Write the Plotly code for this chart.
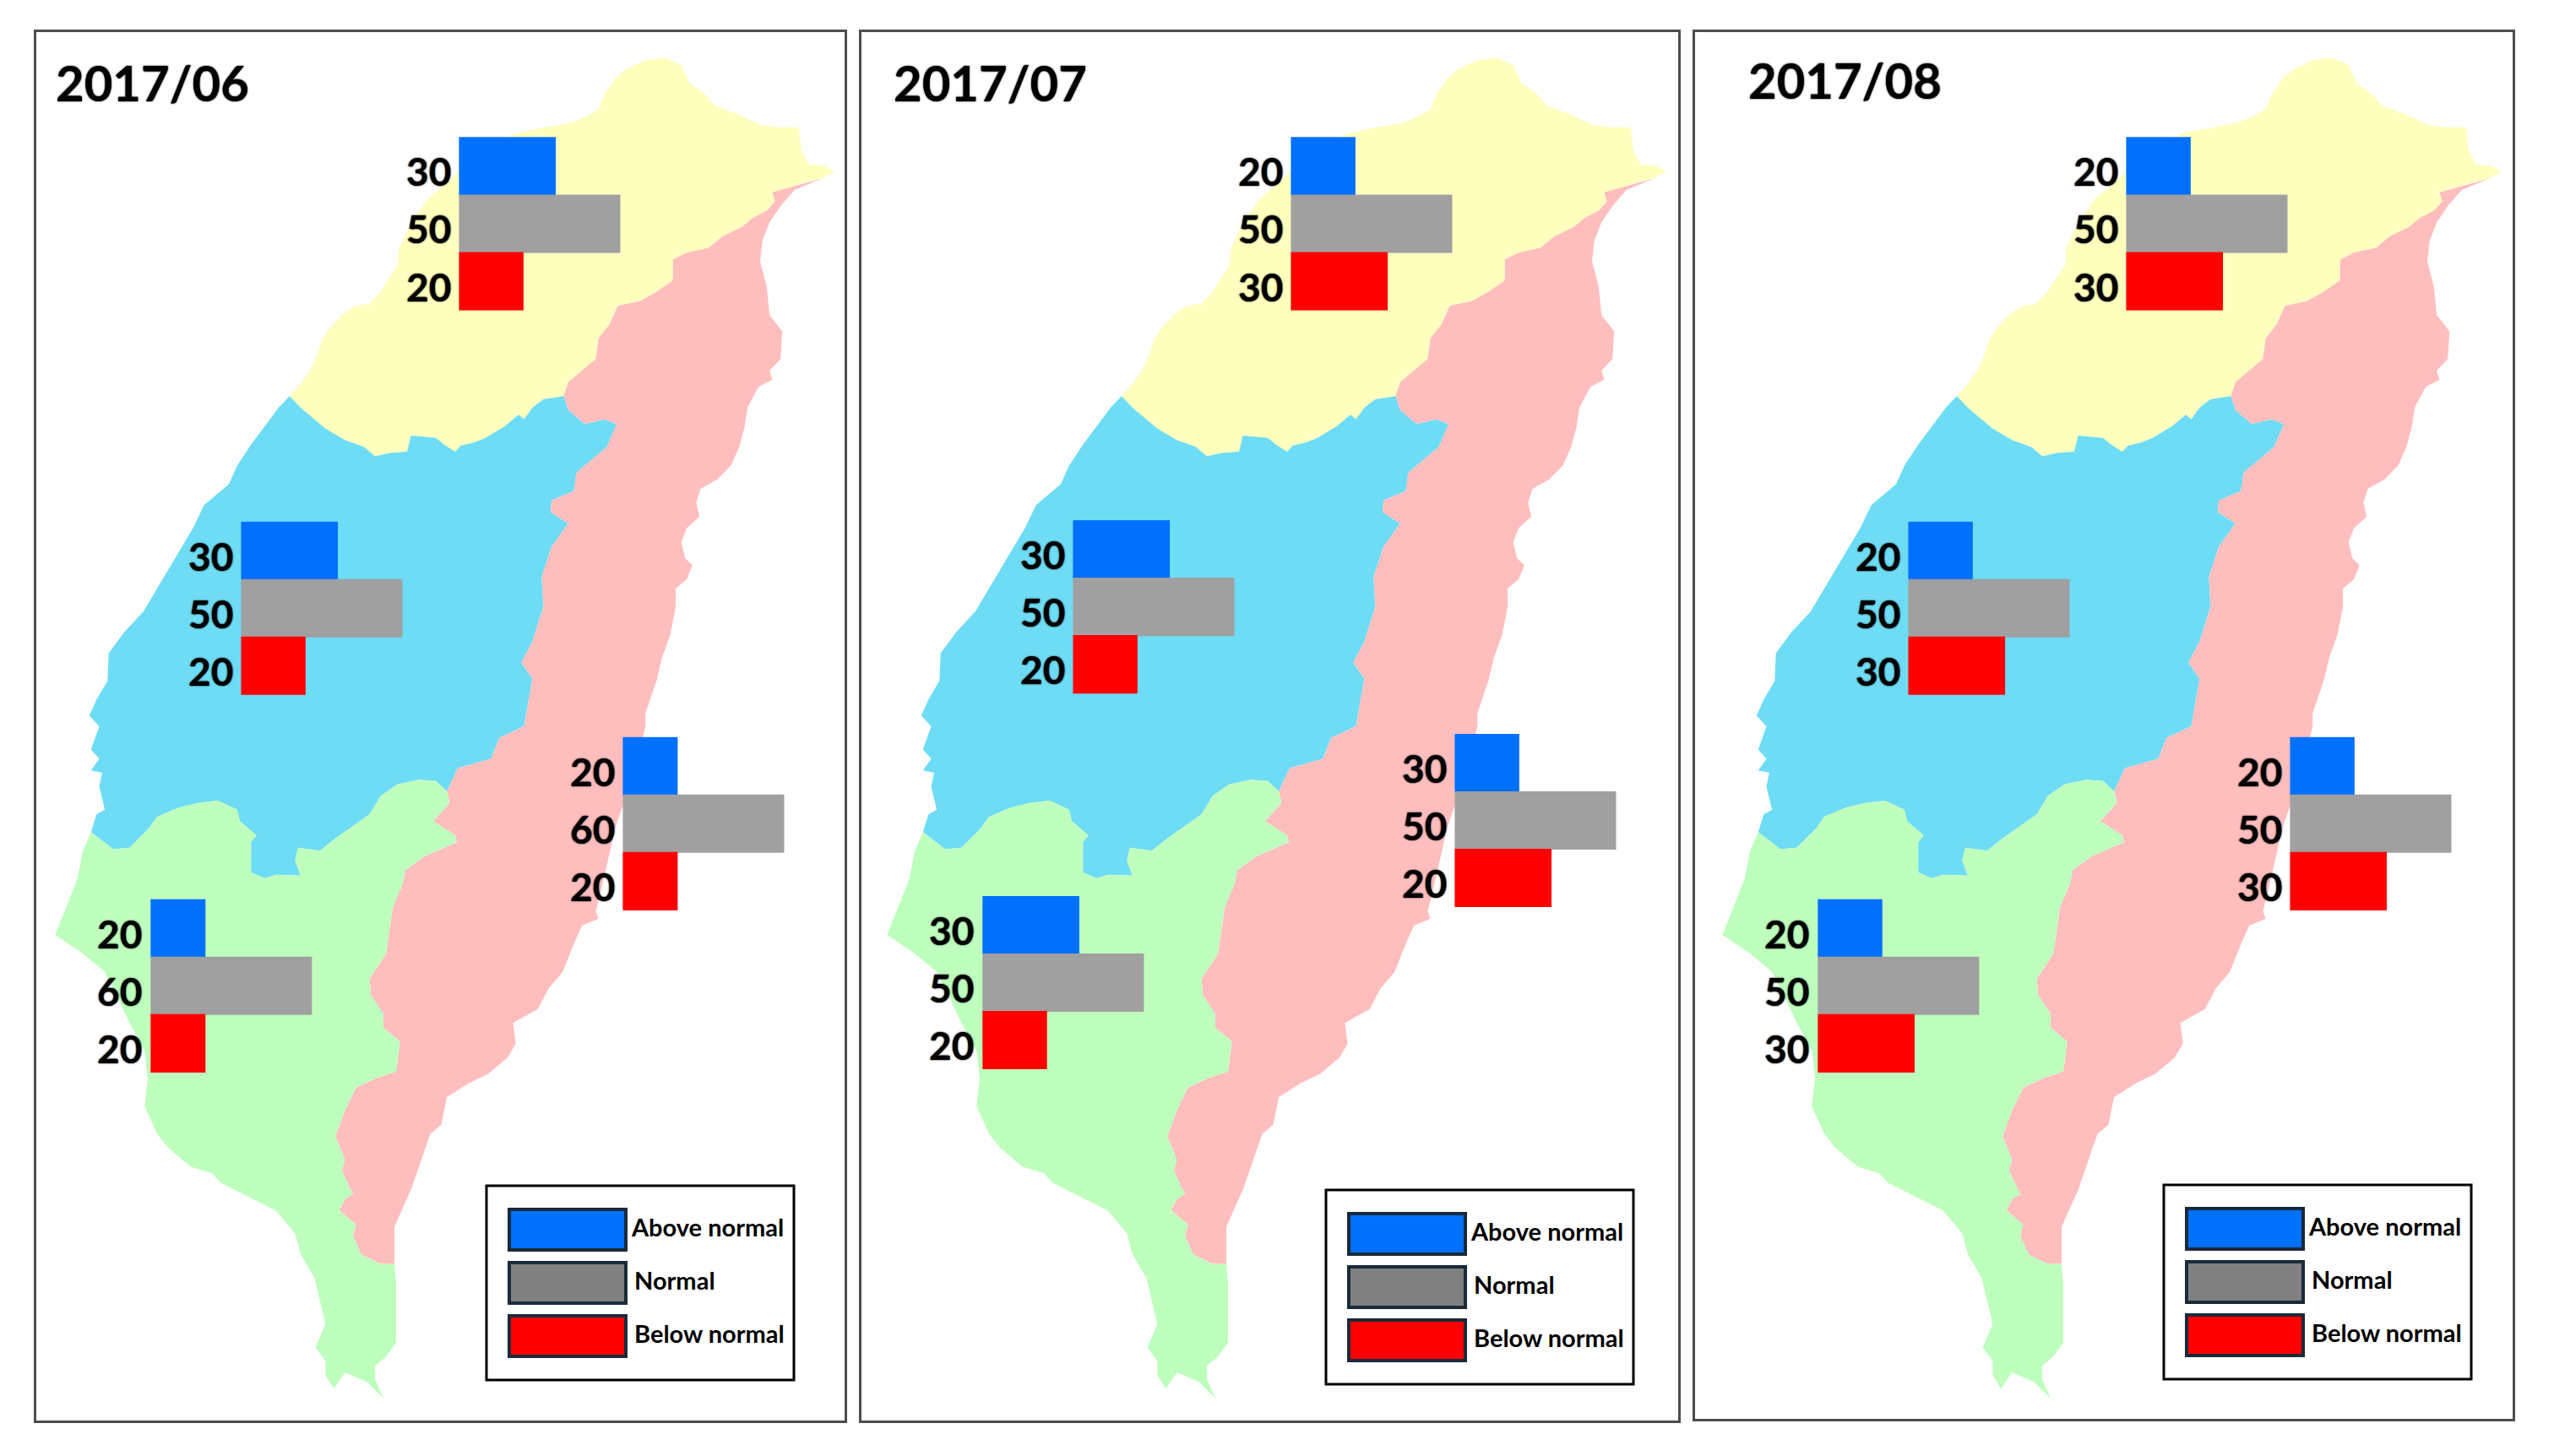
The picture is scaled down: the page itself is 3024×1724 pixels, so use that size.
import plotly.graph_objects as go

# forecast percentages, regions are in this order
REGIONS = ['North', 'Central', 'East', 'South']
MONTHS = ['2017/06', '2017/07', '2017/08']
ABOVE = [[30, 30, 20, 20], [20, 30, 30, 30], [20, 20, 20, 20]]
NORMAL = [[50, 50, 60, 60], [50, 50, 50, 50], [50, 50, 50, 50]]
BELOW = [[20, 20, 20, 20], [30, 20, 20, 20], [30, 30, 30, 30]]
# bar lengths as drawn in the source, a few of them do not follow their labels
ABOVE_DRAWN = [[30, 30, 17, 17], [20, 30, 20, 30], [20, 20, 20, 20]]
NORMAL_DRAWN = [[50, 50, 50, 50], [50, 50, 50, 50], [50, 50, 50, 50]]
BELOW_DRAWN = [[20, 20, 17, 17], [30, 20, 30, 20], [30, 30, 30, 30]]

# region outlines in map units
NE_EDGE = [(1490, 385), (1465, 392), (1430, 405), (1400, 415), (1405, 435), (1390, 455), (1365, 470), (1345, 490),
           (1310, 510), (1285, 535), (1245, 545), (1220, 560), (1220, 605), (1190, 630), (1160, 650), (1120, 660),
           (1105, 700), (1085, 730), (1080, 775), (1055, 800), (1030, 825), (1022, 855)]
NC_EDGE = [(1022, 855), (985, 862), (965, 880), (950, 905), (940, 895), (915, 920), (880, 945), (860, 955), (835, 962),
           (825, 975), (805, 960), (790, 945), (745, 940), (738, 975), (705, 978), (680, 985), (660, 965), (625, 950),
           (590, 925), (565, 900), (545, 880), (525, 855)]
CE_EDGE = [(1022, 855), (1030, 885), (1060, 915), (1095, 905), (1118, 915), (1100, 965), (1075, 990), (1045, 1020),
           (1040, 1060), (1000, 1080), (998, 1105), (1030, 1130), (1000, 1180), (982, 1245), (985, 1310), (965, 1385),
           (945, 1430), (965, 1465), (960, 1500), (950, 1568), (905, 1593), (890, 1638), (830, 1658), (810, 1708)]
SE_EDGE = [(810, 1708), (815, 1733), (785, 1773), (825, 1803), (828, 1818), (770, 1848), (735, 1878), (730, 1908),
           (712, 1958), (700, 2058), (670, 2113), (672, 2148), (695, 2188), (695, 2218), (725, 2248), (718, 2313),
           (680, 2328), (645, 2348), (625, 2398), (608, 2453), (625, 2503), (620, 2528), (640, 2578), (625, 2588),
           (615, 2613), (645, 2643), (640, 2668), (655, 2708), (690, 2728), (715, 2728)]
CS_EDGE = [(810, 1708), (790, 1686), (760, 1683), (720, 1693), (690, 1718), (670, 1758), (640, 1783), (610, 1808),
           (580, 1836), (540, 1830), (535, 1858), (545, 1890), (500, 1888), (480, 1896), (455, 1883), (455, 1818),
           (465, 1803), (435, 1773), (430, 1748), (395, 1728), (360, 1733), (325, 1743), (285, 1763), (270, 1788),
           (235, 1830), (205, 1833), (165, 1796)]
NORTH_COAST = [(525, 855), (545, 828), (565, 795), (575, 765), (585, 730), (600, 705), (620, 680), (640, 662), (670, 655),
               (690, 630), (705, 600), (722, 570), (722, 540), (735, 505), (752, 470), (775, 430), (800, 405), (840, 360),
               (880, 320), (930, 290), (945, 285), (990, 275), (1035, 265), (1065, 250), (1085, 235), (1095, 205),
               (1115, 170), (1135, 150), (1170, 130), (1205, 125), (1235, 140), (1250, 180), (1280, 205), (1295, 228),
               (1335, 245), (1380, 270), (1410, 275), (1448, 275), (1452, 320), (1465, 355), (1495, 358), (1512, 370)]
EAST_COAST = [(1490, 385), (1440, 410), (1415, 445), (1395, 480), (1382, 520), (1378, 565), (1390, 620), (1395, 680),
              (1418, 715), (1415, 775), (1395, 800), (1400, 820), (1375, 835), (1355, 880), (1350, 920), (1340, 965),
              (1325, 1005), (1300, 1035), (1270, 1055), (1262, 1085), (1268, 1115), (1245, 1140), (1235, 1170),
              (1242, 1205), (1255, 1220), (1245, 1250), (1225, 1270), (1225, 1310), (1215, 1370), (1200, 1420),
              (1190, 1470), (1170, 1540), (1170, 1568), (1150, 1668), (1115, 1788), (1100, 1868), (1080, 1968),
              (1085, 1983), (1055, 1998), (1040, 2038), (1020, 2098), (995, 2133), (975, 2178), (930, 2208), (935, 2253),
              (920, 2283), (885, 2318), (850, 2338), (810, 2368), (800, 2428), (780, 2448), (765, 2498), (745, 2568),
              (715, 2648), (715, 2728)]
WEST_COAST = [(165, 1796), (175, 1758), (190, 1748), (180, 1698), (185, 1668), (165, 1663), (180, 1638), (165, 1618),
              (180, 1568), (162, 1545), (175, 1510), (195, 1470), (197, 1410), (225, 1365), (260, 1320), (290, 1260),
              (325, 1190), (350, 1140), (370, 1090), (415, 1045), (430, 1005), (455, 960), (480, 920), (505, 880), (525, 855)]
SOUTH_COAST = [(715, 2728), (718, 2768), (718, 2848), (718, 2898), (700, 2928), (680, 2948), (680, 2978), (695, 3018),
               (665, 2983), (625, 2963), (605, 2998), (590, 2968), (590, 2938), (572, 2908), (590, 2858), (570, 2758),
               (545, 2708), (535, 2663), (500, 2613), (450, 2583), (400, 2553), (385, 2533), (345, 2518), (305, 2478),
               (285, 2448), (262, 2388), (268, 2328), (262, 2268), (235, 2208), (215, 2158), (190, 2098), (150, 2058),
               (100, 2018), (120, 1958), (140, 1898), (150, 1838), (165, 1796)]

NORTH_OUTLINE = NORTH_COAST + NE_EDGE + NC_EDGE
CENTRAL_OUTLINE = NC_EDGE[::-1] + CE_EDGE + CS_EDGE + WEST_COAST
EAST_OUTLINE = EAST_COAST + SE_EDGE[::-1] + CE_EDGE[::-1] + NE_EDGE[::-1]
SOUTH_OUTLINE = CS_EDGE[::-1] + SE_EDGE + SOUTH_COAST

OUTLINES = [NORTH_OUTLINE, CENTRAL_OUTLINE, EAST_OUTLINE, SOUTH_OUTLINE]
MAP_COLORS = ['#ffffbe', '#6edcf5', '#ffbebe', '#beffbe']
BAR_COLORS = ['#0070ff', '#a0a0a0', '#ff0000']
KEY_COLORS = ['#0070ff', '#808080', '#ff0000']
KEY_LABELS = ['Above normal', 'Normal', 'Below normal']

FIG_W, FIG_H = 3024, 1724
UX, UY = 1.531, 1.823          # map units per screen pixel
PANELS = [(43, 1000, 38, 1682), (1020, 1987, 38, 1682), (2007, 2975, 38, 1680)]  # left, right, top, bottom in px
MAP_SHIFT = [0, 985, 1974]     # px
LEGEND_BOX = [(576, 1404), (1570, 1409), (2562, 1403)]
TITLE_POS = [(64, 98), (1056, 98), (2068, 95)]

# top-left corner of each bar group in map units
BAR_ANCHOR = [(832, 297), (437, 1127), (1129, 1592), (273, 1942)]
BAR_DROP = [[0, 0, 0, 0], [0, -3, -7, -7], [0, 0, 0, 0]]
BAR_STEP = 124
UNITS_PER_PCT = 5.85

fig = go.Figure()
layout = {}
shapes = []
annotations = []


def px_x(v):
    return v / FIG_W


def px_y(v):
    return 1 - v / FIG_H


for p, month in enumerate(MONTHS):
    left, right, top, bottom = PANELS[p]
    base = 2 * p + 1
    over = 2 * p + 2
    x_range = [(left - MAP_SHIFT[p]) * UX, (right - MAP_SHIFT[p]) * UX]
    y_range = [bottom * UY, top * UY]
    domain_x = [px_x(left), px_x(right)]
    domain_y = [px_y(bottom), px_y(top)]
    layout[f'xaxis{base}'] = dict(domain=domain_x, range=x_range, anchor=f'y{base}', showgrid=False, zeroline=False,
                                  showticklabels=False, ticks='', showline=True, mirror=True, linecolor='#4d4d4d', linewidth=3)
    layout[f'yaxis{base}'] = dict(domain=domain_y, range=y_range, anchor=f'x{base}', showgrid=False, zeroline=False,
                                  showticklabels=False, ticks='', showline=True, mirror=True, linecolor='#4d4d4d', linewidth=3)
    layout[f'xaxis{over}'] = dict(domain=domain_x, range=x_range, anchor=f'y{over}', overlaying=f'x{base}', visible=False)
    layout[f'yaxis{over}'] = dict(domain=domain_y, range=y_range, anchor=f'x{over}', overlaying=f'y{base}', visible=False)

    # map
    for r, outline in enumerate(OUTLINES):
        fig.add_trace(go.Scatter(x=[pt[0] for pt in outline], y=[pt[1] for pt in outline], mode='lines', fill='toself',
                                 fillcolor=MAP_COLORS[r], line=dict(width=0), name=REGIONS[r], showlegend=False,
                                 hoverinfo='name', xaxis=f'x{base}', yaxis=f'y{base}'))

    # bars and their labels
    series = [(ABOVE_DRAWN[p], ABOVE[p]), (NORMAL_DRAWN[p], NORMAL[p]), (BELOW_DRAWN[p], BELOW[p])]
    for s, (drawn, labels) in enumerate(series):
        ys = [BAR_ANCHOR[r][1] + BAR_DROP[p][r] + BAR_STEP * (s + 0.5) for r in range(4)]
        bases = [BAR_ANCHOR[r][0] for r in range(4)]
        fig.add_trace(go.Bar(x=[d * UNITS_PER_PCT for d in drawn], y=ys, base=bases, width=BAR_STEP + 2, orientation='h',
                             marker=dict(color=BAR_COLORS[s], line=dict(width=0)), name=KEY_LABELS[s], showlegend=False,
                             xaxis=f'x{over}', yaxis=f'y{over}'))
        for r in range(4):
            annotations.append(dict(x=bases[r] - 12, y=ys[r] + 11, xref=f'x{over}', yref=f'y{over}', text=str(labels[r]),
                                    showarrow=False, xanchor='right', yanchor='middle',
                                    font=dict(family='Lato', size=46, color='black', weight='bold', shadow='0 0 2px #000')))

    annotations.append(dict(x=px_x(TITLE_POS[p][0]), y=px_y(TITLE_POS[p][1]), xref='paper', yref='paper', text=month,
                            showarrow=False, xanchor='left', yanchor='middle',
                            font=dict(family='Lato', size=58, color='black', weight='bold', shadow='0 0 2px #000')))

    # hand made key box
    lx, ly = LEGEND_BOX[p]
    shapes.append(dict(type='rect', xref='paper', yref='paper', x0=px_x(lx), x1=px_x(lx + 364), y0=px_y(ly), y1=px_y(ly + 230),
                       line=dict(color='black', width=3), fillcolor='white'))
    for k, key in enumerate(KEY_LABELS):
        sy = ly + 28 + 63 * k
        shapes.append(dict(type='rect', xref='paper', yref='paper', x0=px_x(lx + 27), x1=px_x(lx + 165), y0=px_y(sy), y1=px_y(sy + 48),
                           line=dict(color='#1a2a3a', width=4), fillcolor=KEY_COLORS[k]))
        annotations.append(dict(x=px_x(lx + (169 if k == 0 else 173)), y=px_y(sy + 20), xref='paper', yref='paper', text=key,
                                showarrow=False, xanchor='left', yanchor='middle',
                                font=dict(family='Lato', size=29, color='black', weight='bold')))

fig.update_layout(width=FIG_W, height=FIG_H, margin=dict(l=0, r=0, t=0, b=0), paper_bgcolor='white', plot_bgcolor='white',
                  showlegend=False, barmode='overlay', shapes=shapes, annotations=annotations, **layout)

fig.write_html('out.html', config={'displayModeBar': False}, post_script="document.body.style.margin='0';")
